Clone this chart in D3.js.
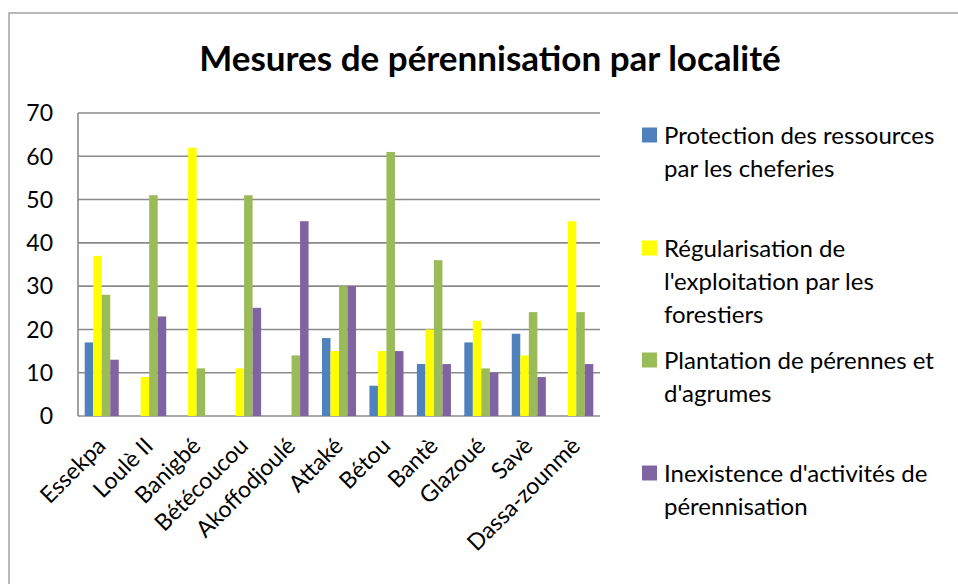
<!DOCTYPE html>
<html>
<head>
<meta charset="utf-8">
<script src="https://cdn.jsdelivr.net/npm/d3@7"></script>
<style>
  body { margin: 0; background: #fff; }
  svg { display: block; font-family: Lato, "Open Sans", sans-serif; }
</style>
</head>
<body>
<div id="chart"></div>
<script>
// localities on the x axis
const localites = ["Essekpa", "Loulè II", "Banigbé", "Bétécoucou", "Akoffodjoulé", "Attaké",
                   "Bétou", "Bantè", "Glazoué", "Savè", "Dassa-zounmè"];

// one array per measure
const protection   = [17, 0, 0, 0, 0, 18, 7, 12, 17, 19, 0];
const regularisation = [37, 9, 62, 11, 0, 15, 15, 20, 22, 14, 45];
const plantation   = [28, 51, 11, 51, 14, 30, 61, 36, 11, 24, 24];
const inexistence  = [13, 23, 0, 25, 45, 30, 15, 12, 10, 9, 12];

const seriesNames = [
    ["Protection des ressources", "par les cheferies"],
    ["Régularisation de", "l'exploitation par les", "forestiers"],
    ["Plantation de pérennes et", "d'agrumes"],
    ["Inexistence d'activités de", "pérennisation"]
];
const colors = ["#4F81BD", "#FFFF00", "#9BBB59", "#8064A2"];
const yTicks = [0, 10, 20, 30, 40, 50, 60, 70];

const width = 958, height = 584;
const plot = {left: 78, right: 600, top: 113, bottom: 416};

let svg = d3.select("#chart").append("svg")
    .attr("width", width)
    .attr("height", height);

// outer frame (runs off the right and bottom edges like the original)
svg.append("rect")
    .attr("x", 9).attr("y", 13)
    .attr("width", 980).attr("height", 600)
    .attr("fill", "none")
    .attr("stroke", "#a3a3a3")
    .attr("stroke-width", 1.5);

svg.append("text")
    .attr("x", 490).attr("y", 71)
    .attr("text-anchor", "middle")
    .attr("font-size", 35)
    .attr("font-weight", "bold")
    .text("Mesures de pérennisation par localité");

let yScale = d3.scaleLinear().domain([0, 70]).range([plot.bottom, plot.top]);
let x0 = d3.scaleBand().domain(localites).range([plot.left, plot.right]).padding(0);
let x1 = d3.scaleBand().domain(d3.range(4)).range([6.7, x0.bandwidth() - 6.7]).padding(0);

// gridlines
svg.append("g").selectAll("line").data(yTicks).enter().append("line")
    .attr("x1", plot.left).attr("x2", plot.right)
    .attr("y1", d => yScale(d)).attr("y2", d => yScale(d))
    .attr("stroke", "#8a8a8a")
    .attr("stroke-width", 1.6);

// y axis line
svg.append("line")
    .attr("x1", plot.left).attr("x2", plot.left)
    .attr("y1", plot.top).attr("y2", plot.bottom)
    .attr("stroke", "#8a8a8a")
    .attr("stroke-width", 1.6);

svg.append("g").selectAll("text").data(yTicks).enter().append("text")
    .attr("x", 53)
    .attr("y", d => yScale(d))
    .attr("dy", "0.36em")
    .attr("text-anchor", "end")
    .attr("font-size", 23)
    .text(d => d);

// bars
let allSeries = [protection, regularisation, plantation, inexistence];
let groups = svg.append("g").selectAll("g").data(localites).enter().append("g")
    .attr("transform", d => "translate(" + x0(d) + ",0)");

groups.selectAll("rect")
    .data((d, i) => allSeries.map((s, k) => ({k: k, v: s[i]})))
    .enter().append("rect")
    .filter(d => d.v > 0)
    .attr("x", d => x1(d.k))
    .attr("y", d => yScale(d.v))
    .attr("width", x1.bandwidth())
    .attr("height", d => yScale(0) - yScale(d.v))
    .attr("fill", d => colors[d.k]);

// x labels, rotated
svg.append("g").selectAll("text").data(localites).enter().append("text")
    .attr("transform", d => "translate(" + (x0(d) + x0.bandwidth() / 2 - 6) + "," + 436 + ") rotate(-45)")
    .attr("text-anchor", "end")
    .attr("dy", "0.7em")
    .attr("font-size", 23)
    .text(d => d);

// legend
let legendY = [135, 248, 360, 473];
let legend = svg.append("g").selectAll("g").data(seriesNames).enter().append("g")
    .attr("transform", (d, i) => "translate(642," + legendY[i] + ")");

legend.append("rect")
    .attr("x", 0).attr("y", -7.5)
    .attr("width", 15).attr("height", 15)
    .attr("fill", (d, i) => colors[i]);

legend.each(function(lines) {
    let t = d3.select(this).append("text")
        .attr("font-size", 24);
    lines.forEach((line, j) => {
        t.append("tspan")
            .attr("x", 22)
            .attr("y", j * 33)
            .attr("dy", "0.36em")
            .text(line);
    });
});
</script>
</body>
</html>
